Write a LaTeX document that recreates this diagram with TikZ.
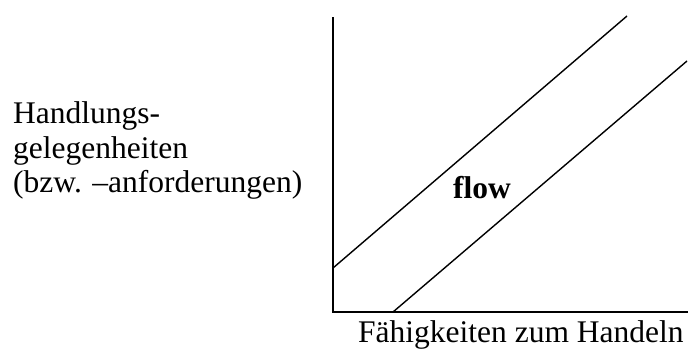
\documentclass[tikz,border=0pt]{standalone}
\usepackage{fontspec}
\setmainfont{Liberation Serif}
\begin{document}
\begin{tikzpicture}[x=1pt,y=-1pt,
  axisline/.style={line width=1.6pt},
  bandline/.style={line width=1.4pt},
  lbl/.style={inner sep=0pt,anchor=base west,font=\fontsize{31.5}{36}\selectfont}]
\useasboundingbox (0,0) rectangle (688,349);
\coordinate (top) at (333,17);
\coordinate (origin) at (333,312);
\coordinate (xend) at (688,312);
\coordinate (u1) at (333,268);
\coordinate (u2) at (627,16);
\coordinate (l1) at (393,312);
\coordinate (l2) at (687,61);
\draw[axisline] (top) -- (origin) -- (xend);
\draw[bandline] (u1) -- (u2);
\draw[bandline] (l1) -- (l2);
\node[lbl] (y1) at (13,123) {Handlungs-};
\node[lbl] (y2) at (13,158) {gelegenheiten};
\node[lbl] (y3) at (13,192) {(bzw. –anforderungen)};
\node[lbl,font=\fontsize{31.5}{36}\selectfont\bfseries] (flow) at (453,198) {flow};
\node[lbl] (xl) at (358,342) {Fähigkeiten zum Handeln};
\end{tikzpicture}
\end{document}
